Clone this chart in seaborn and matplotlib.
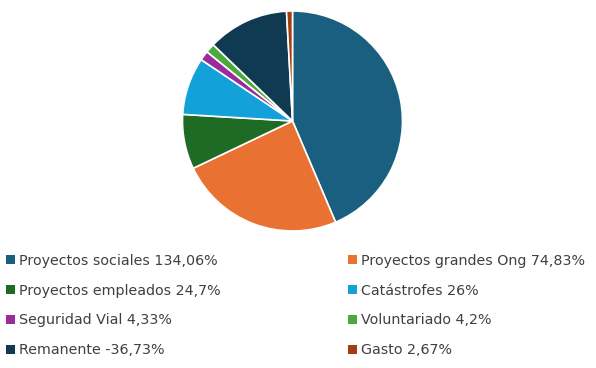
import matplotlib
matplotlib.use("Agg")
import matplotlib.pyplot as plt
import seaborn as sns
from matplotlib.patches import Patch

categories = ["Proyectos sociales", "Proyectos grandes Ong", "Proyectos empleados",
              "Catástrofes", "Seguridad Vial", "Voluntariado", "Remanente", "Gasto"]
values = [134.06, 74.83, 24.7, 26, 4.33, 4.2, -36.73, 2.67]
value_labels = ["134,06%", "74,83%", "24,7%", "26%", "4,33%", "4,2%", "-36,73%", "2,67%"]
colors = ["#1a5f80", "#e97232", "#1d6b24", "#13a1d9", "#9a2b9c", "#4baa3c", "#0f3a51", "#a23e12"]

sns.set_theme(style="white")
plt.rcParams['font.family'] = ['DejaVu Sans']

W, H = 596, 368
fig = plt.figure(figsize=(W / 100, H / 100), dpi=100)
cx, cy, r = 292.5, 121, 110
ax = fig.add_axes([(cx - r) / W, (H - cy - r) / H, 2 * r / W, 2 * r / H])
ax.pie([abs(v) for v in values], colors=colors, startangle=90, counterclock=False,
       wedgeprops=dict(edgecolor="white", linewidth=1.2), radius=1)
ax.set_xlim(-1, 1)
ax.set_ylim(-1, 1)
ax.set_aspect("equal")
ax.axis("off")

labels = [f"{c} {l}" for c, l in zip(categories, value_labels)]
handles = [Patch(facecolor=c, edgecolor="none") for c in colors]

common = dict(frameon=False, fontsize=10.3, handlelength=0.6, handleheight=0.6,
              handletextpad=0.3, labelspacing=1.1, labelcolor="#404040",
              borderaxespad=0, borderpad=0)
leg1 = fig.legend([handles[i] for i in range(0, 8, 2)], [labels[i] for i in range(0, 8, 2)],
                  loc="upper left", bbox_to_anchor=(6 / W, 1 - 254 / H), **common)
leg2 = fig.legend([handles[i] for i in range(1, 8, 2)], [labels[i] for i in range(1, 8, 2)],
                  loc="upper left", bbox_to_anchor=(348 / W, 1 - 254 / H), **common)

fig.savefig("out.png", dpi=100, facecolor="white")
